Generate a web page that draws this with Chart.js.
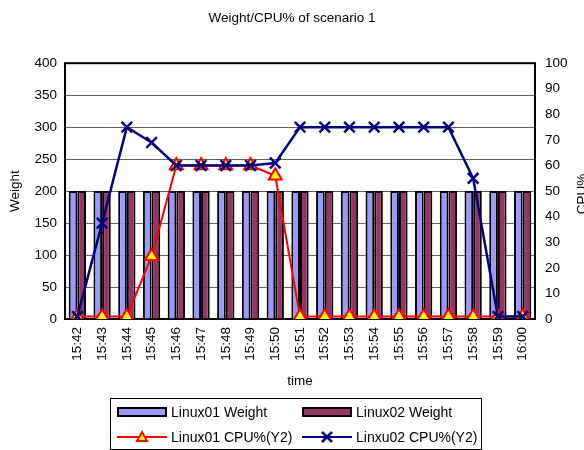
<!DOCTYPE html>
<html>
<head>
<meta charset="utf-8">
<script src="https://cdn.jsdelivr.net/npm/chart.js@4/dist/chart.umd.min.js"></script>
<style>
  body { margin: 0; background: #fff; font-family: 'Liberation Sans', Arial, sans-serif; }
  #wrap { position: relative; width: 584px; height: 450px; }
  #legend { position: absolute; left: 110px; top: 398px; width: 372px; height: 52px;
            border: 1px solid #000; box-sizing: border-box; font-size: 14px; color: #000; }
  .item { position: absolute; display: flex; align-items: center; height: 16px; white-space: nowrap; }
  .item span { margin-left: 4px; }
  .bar { width: 46px; height: 6px; border: 2px solid #000; }
</style>
</head>
<body>
<div id="wrap">
  <canvas id="myChart"></canvas>
  <div id="legend">
    <div class="item" style="left:6px; top:5px"><div class="bar" style="background:#9999ff"></div><span>Linux01 Weight</span></div>
    <div class="item" style="left:191px; top:5px"><div class="bar" style="background:#993366"></div><span>Linux02 Weight</span></div>
    <div class="item" style="left:6px; top:30px">
      <svg width="50" height="16"><line x1="0" y1="8" x2="50" y2="8" stroke="#ff0000" stroke-width="2"/>
        <polygon points="25,3 30,12 20,12" fill="#ffff00" stroke="#ff0000" stroke-width="2"/></svg>
      <span>Linux01 CPU%(Y2)</span></div>
    <div class="item" style="left:191px; top:30px">
      <svg width="50" height="16"><line x1="0" y1="8" x2="50" y2="8" stroke="#000080" stroke-width="2"/>
        <path d="M20,3 L30,13 M30,3 L20,13" stroke="#000080" stroke-width="2.5"/></svg>
      <span>Linxu02 CPU%(Y2)</span></div>
  </div>
</div>
<script>
const times = ['15:42', '15:43', '15:44', '15:45', '15:46', '15:47', '15:48', '15:49', '15:50', '15:51',
    '15:52', '15:53', '15:54', '15:55', '15:56', '15:57', '15:58', '15:59', '16:00'];
const linux01Weight = [200, 200, 200, 200, 200, 200, 200, 200, 200, 200, 200, 200, 200, 200, 200, 200, 200, 200, 200];
const linux02Weight = [200, 200, 200, 200, 200, 200, 200, 200, 200, 200, 200, 200, 200, 200, 200, 200, 200, 200, 200];
const linux01Cpu = [1, 1, 1, 24.5, 60, 60, 60, 60, 56, 1, 1, 1, 1, 1, 1, 1, 1, 1, 1];
const linux02Cpu = [1, 37.5, 75, 69, 60, 60, 60, 60, 61, 75, 75, 75, 75, 75, 75, 75, 55, 1, 1];

const font = { family: "'Liberation Sans', Arial, sans-serif", size: 13.5 };

// frame round the plot area and the right axis title (reads bottom to top, runs off the edge)
const framePlugin = {
    id: 'frame',
    beforeDatasetsDraw(chart) {
        const a = chart.chartArea, ctx = chart.ctx;
        ctx.save();
        ctx.strokeStyle = '#000';
        ctx.lineWidth = 2;
        ctx.strokeRect(a.left, a.top, a.right - a.left, a.bottom - a.top);
        ctx.restore();
    },
    afterDraw(chart) {
        const a = chart.chartArea, ctx = chart.ctx;
        ctx.save();
        ctx.translate(582, (a.top + a.bottom) / 2 + 3);
        ctx.rotate(-Math.PI / 2);
        ctx.font = "13.5px 'Liberation Sans', Arial, sans-serif";
        ctx.fillStyle = '#000';
        ctx.textAlign = 'center';
        ctx.textBaseline = 'middle';
        ctx.fillText('CPU%', 0, 0);
        ctx.restore();
    }
};

new Chart(document.getElementById('myChart'), {
    data: {
        labels: times,
        datasets: [{
            type: 'line',
            label: 'Linxu02 CPU%(Y2)',
            data: linux02Cpu,
            yAxisID: 'y1',
            borderColor: '#000080',
            borderWidth: 2.5,
            pointStyle: 'crossRot',
            pointRadius: 7.5,
            pointBorderWidth: 2.5,
            pointBorderColor: '#000080',
            order: 1
        }, {
            type: 'line',
            label: 'Linux01 CPU%(Y2)',
            data: linux01Cpu,
            yAxisID: 'y1',
            borderColor: '#ff0000',
            borderWidth: 2,
            pointStyle: 'triangle',
            pointRadius: 7.5,
            pointBorderWidth: 2,
            pointBorderColor: '#ff0000',
            pointBackgroundColor: '#ffff00',
            order: 2
        }, {
            type: 'bar',
            label: 'Linux01 Weight',
            data: linux01Weight,
            backgroundColor: '#9999ff',
            borderColor: '#000',
            borderWidth: 2,
            barPercentage: 1,
            categoryPercentage: 0.7,
            order: 3
        }, {
            type: 'bar',
            label: 'Linux02 Weight',
            data: linux02Weight,
            backgroundColor: '#993366',
            borderColor: '#000',
            borderWidth: 2,
            barPercentage: 1,
            categoryPercentage: 0.7,
            order: 4
        }]
    },
    options: {
        responsive: true,
        maintainAspectRatio: false,
        animation: false,
        layout: { padding: { left: 0, right: 0, top: 0, bottom: 57 } },
        plugins: {
            legend: { display: false },
            tooltip: { enabled: false },
            title: {
                display: true,
                text: 'Weight/CPU% of scenario 1',
                color: '#000',
                font: { ...font, weight: 'normal' },
                padding: { top: 10, bottom: 37 }
            }
        },
        scales: {
            x: {
                offset: true,
                grid: { display: false },
                border: { display: false },
                ticks: { color: '#000', font, minRotation: 90, maxRotation: 90, padding: 0 },
                title: { display: true, text: 'time', color: '#000', font, padding: { top: 4 } },
                afterFit(scale) { scale.height = 74; }
            },
            y: {
                position: 'left',
                min: 0,
                max: 400,
                ticks: { stepSize: 50, color: '#000', font, padding: 8 },
                grid: { color: '#606060', lineWidth: 1, drawTicks: false },
                border: { display: false },
                title: { display: true, text: 'Weight', color: '#000', font, padding: { top: 7, bottom: 0 } },
                afterFit(scale) { scale.width = 65; }
            },
            y1: {
                position: 'right',
                min: 0,
                max: 100,
                ticks: { stepSize: 10, color: '#000', font, padding: 10 },
                grid: { drawOnChartArea: false, drawTicks: false },
                border: { display: false },
                afterFit(scale) { scale.width = 49; }
            }
        }
    },
    plugins: [framePlugin]
});
</script>
</body>
</html>
